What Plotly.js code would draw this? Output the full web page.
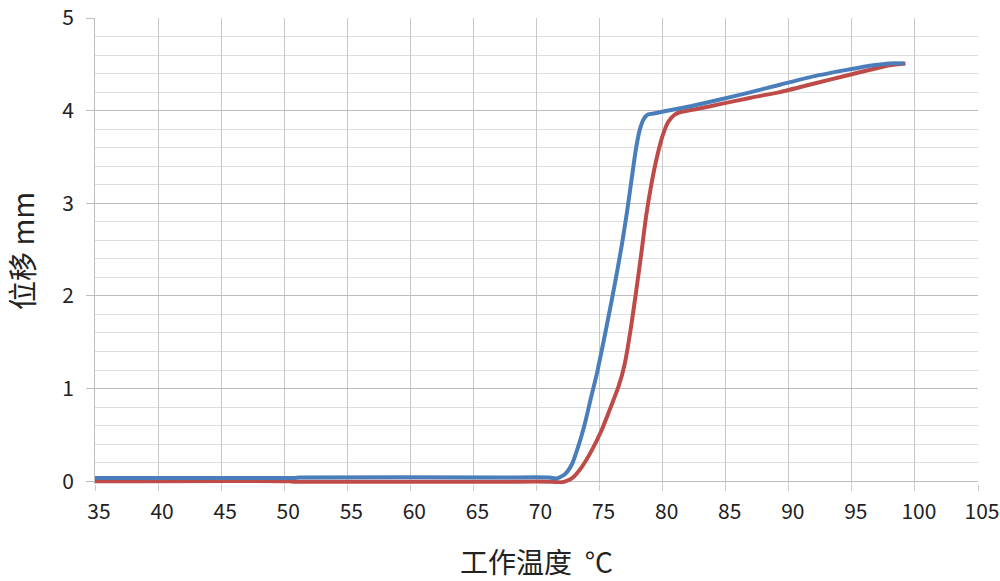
<!DOCTYPE html>
<html>
<head>
<meta charset="utf-8">
<script src="https://cdn.plot.ly/plotly-3.0.1.min.js"></script>
<style>
html,body{margin:0;padding:0;background:#fff;}
#chart{width:1000px;height:581px;}
</style>
</head>
<body>
<div id="chart"></div>
<script>
// Blue series (temperature °C, displacement mm)
const tempBlue = [35, 50.8, 51.2, 67.1, 71.0, 71.6, 72.25, 72.8, 73.3, 73.83, 74.37, 74.8, 75.2, 75.6, 76.0, 76.4, 76.8, 77.2, 77.55, 77.9, 78.2, 78.5, 78.86, 79.3, 80.05, 82.3, 84.55, 87.0, 89.3, 91.95, 94.6, 96.7, 98.0, 99.15];
const dispBlue = [0.036, 0.036, 0.04, 0.04, 0.04, 0.03, 0.075, 0.18, 0.37, 0.62, 0.93, 1.17, 1.43, 1.7, 1.98, 2.27, 2.58, 2.93, 3.27, 3.6, 3.8, 3.91, 3.96, 3.97, 3.99, 4.05, 4.12, 4.2, 4.28, 4.37, 4.44, 4.49, 4.51, 4.51];

// Red series
const tempRed = [35, 50.4, 50.8, 67.0, 71.2, 71.98, 72.8, 73.57, 74.37, 75.16, 75.8, 76.5, 77.0, 77.5, 77.9, 78.3, 78.7, 79.1, 79.5, 80.0, 80.45, 80.9, 81.3, 82.8, 84.55, 87.0, 89.3, 91.95, 94.6, 96.7, 98.0, 99.25];
const dispRed = [0.0, 0.0, -0.005, -0.005, -0.005, -0.012, 0.03, 0.15, 0.33, 0.55, 0.77, 1.02, 1.27, 1.67, 2.05, 2.45, 2.87, 3.2, 3.47, 3.73, 3.88, 3.95, 3.98, 4.02, 4.07, 4.14, 4.2, 4.29, 4.38, 4.45, 4.49, 4.51];

// Axis texts
const xTitle = '工作温度  °C';
const yTitle = '位移 mm';

const font = '"Noto Sans CJK SC", "Noto Sans", "DejaVu Sans", sans-serif';

const traces = [
  {x: tempRed, y: dispRed, type: 'scatter', mode: 'lines',
   line: {color: '#BE4B48', width: 4, shape: 'spline', smoothing: 0.6}, hoverinfo: 'skip'},
  {x: tempBlue, y: dispBlue, type: 'scatter', mode: 'lines',
   line: {color: '#4A7EBB', width: 4, shape: 'spline', smoothing: 0.6}, hoverinfo: 'skip'}
];

const layout = {
  width: 1000, height: 581,
  margin: {l: 95, r: 22, t: 18, b: 97},
  paper_bgcolor: '#ffffff', plot_bgcolor: '#ffffff',
  showlegend: false,
  font: {family: font, color: '#222'},
  xaxis: {
    range: [35, 105], tick0: 35, dtick: 5,
    showgrid: true, gridcolor: '#c9c9c9', gridwidth: 1,
    zeroline: false, showline: false,
    ticks: 'outside', ticklen: 6, tickcolor: '#c9c9c9', tickwidth: 1,
    ticklabelshift: 4, ticklabelstandoff: 3, ticklabeloverflow: 'allow',
    tickfont: {family: font, size: 21, color: '#222'},
    title: {text: xTitle, font: {family: font, size: 28, color: '#222'}, standoff: 30}
  },
  yaxis: {
    range: [-0.03, 5], tick0: 0, dtick: 1,
    showgrid: true, gridcolor: '#bdbdbd', gridwidth: 1,
    minor: {dtick: 0.2, showgrid: true, gridcolor: '#dedede', gridwidth: 1, ticks: ''},
    zeroline: false, showline: true, linecolor: '#bdbdbd', linewidth: 1,
    ticks: 'outside', ticklen: 8, tickcolor: '#bdbdbd', tickwidth: 1,
    ticklabelstandoff: 8,
    tickfont: {family: font, size: 21, color: '#222'},
    title: {text: yTitle, font: {family: font, size: 29, color: '#222'}, standoff: 27}
  }
};

Plotly.newPlot('chart', traces, layout, {staticPlot: true, displayModeBar: false});
</script>
</body>
</html>
